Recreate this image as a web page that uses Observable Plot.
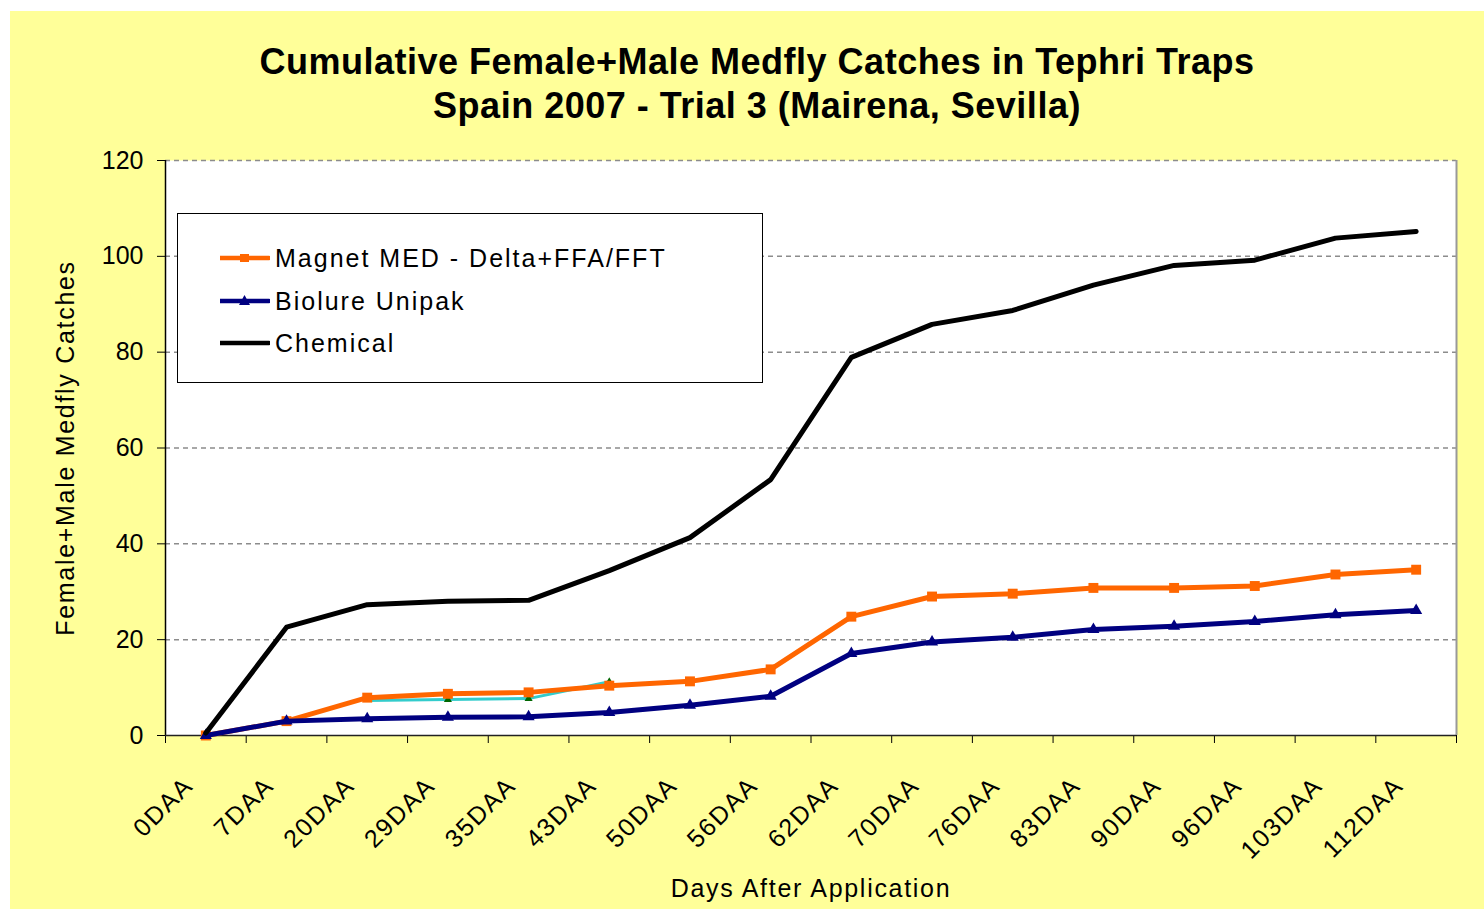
<!DOCTYPE html>
<html><head><meta charset="utf-8">
<script src="https://cdn.jsdelivr.net/npm/d3@7"></script>
<script src="https://cdn.jsdelivr.net/npm/@observablehq/plot@0.6"></script>
<style>
html,body{margin:0;padding:0;background:#fff;width:1484px;height:909px;overflow:hidden;}
#chart{position:absolute;left:10px;top:11px;width:1474px;height:898px;background:#FFFF99;}
#title{position:absolute;left:20px;width:1454px;top:29px;text-align:center;font:bold 36px "Liberation Sans",Arial,sans-serif;line-height:44px;color:#000;letter-spacing:0.5px;}
#plot{position:absolute;left:0;top:130px;}
#legend{position:absolute;left:167px;top:202px;width:586px;height:170px;box-sizing:border-box;border:1.5px solid #000;background:#fff;font:25px "Liberation Sans",Arial,sans-serif;letter-spacing:2px;color:#000;}
#legend .row{position:absolute;left:0;height:30px;width:100%;}
#legend .row svg{position:absolute;left:42px;top:8px;}
#legend .row span{position:absolute;left:97px;top:0;line-height:30px;white-space:nowrap;}
g[aria-label="text"] text{letter-spacing:1.7px;}
</style>
</head><body>
<div id="chart">
  <div id="title">Cumulative Female+Male Medfly Catches in Tephri Traps<br>Spain 2007 - Trial 3 (Mairena, Sevilla)</div>
  <div id="plot"></div>
  <div id="legend"></div>
</div>
<script>
const categories = ["0DAA","7DAA","20DAA","29DAA","35DAA","43DAA","50DAA","56DAA","62DAA","70DAA","76DAA","83DAA","90DAA","96DAA","103DAA","112DAA"];
const magnet   = [0, 3.0, 7.9, 8.7, 9.0, 10.4, 11.3, 13.8, 24.8, 29.0, 29.6, 30.8, 30.8, 31.2, 33.6, 34.6];
const biolure  = [0, 3.0, 3.5, 3.8, 3.9, 4.8, 6.3, 8.2, 17.1, 19.5, 20.5, 22.1, 22.8, 23.8, 25.2, 26.1];
const chemical = [0.5, 22.6, 27.3, 28.0, 28.2, 34.4, 41.3, 53.4, 78.9, 85.8, 88.7, 94.0, 98.1, 99.2, 103.8, 105.2];
const hidden   = [null, null, 7.3, 7.5, 7.7, 11.2, null, null, null, null, null, null, null, null, null, null];
const seriesNames = ["Magnet MED - Delta+FFA/FFT", "Biolure Unipak", "Chemical"];
const yTicks = [0, 20, 40, 60, 80, 100, 120];
const xTitle = "Days After Application";
const yTitle = "Female+Male Medfly Catches";

const colors = {magnet: "#FF6600", biolure: "#000080", chemical: "#000000", hidden: "#33CCCC", hiddenMark: "#006600"};

const rows = (vals) => vals.map((v, i) => ({x: i + 0.5, cat: categories[i], value: v})).filter(d => d.value != null);
const magnetRows = rows(magnet), biolureRows = rows(biolure), chemicalRows = rows(chemical), hiddenRows = rows(hidden);
const n = categories.length;

const chart = Plot.plot({
  width: 1474,
  height: 768,
  marginLeft: 155,
  marginRight: 28,
  marginTop: 19,
  marginBottom: 174,
  x: {domain: [0, n]},
  y: {domain: [0, 120]},
  style: {background: "transparent", fontFamily: "'Liberation Sans', Arial, sans-serif", color: "#000", overflow: "visible"},
  marks: [
    Plot.frame({fill: "white", stroke: "none"}),
    Plot.ruleY(yTicks.filter(d => d > 0), {stroke: "#8c8c8c", strokeWidth: 1.5, strokeDasharray: "5,4"}),
    Plot.ruleX([n], {stroke: "#999", strokeWidth: 2}),
    Plot.axisY({ticks: yTicks, tickSize: 8, tickPadding: 14, fontSize: 25, label: null, stroke: "#000"}),
    Plot.axisX({ticks: d3.range(0, n + 1), tickSize: 8, tickFormat: () => "", label: null, stroke: "#000"}),
    Plot.ruleX([0], {stroke: "#000", strokeWidth: 1.5}),
    Plot.ruleY([0], {stroke: "#222", strokeWidth: 1.5}),
    Plot.text(categories, {x: (d, i) => i + 0.5, y: () => 0, text: d => d, rotate: -45, textAnchor: "end", dx: -17, dy: 46, fontSize: 25, fill: "#000"}),
    Plot.text([xTitle], {frameAnchor: "bottom", textAnchor: "middle", dy: 161, fontSize: 25, fill: "#000"}),
    Plot.text([yTitle], {frameAnchor: "left", textAnchor: "middle", rotate: -90, dx: -100, fontSize: 25, fill: "#000"}),
    // unlabelled series visible in the original
    Plot.line(hiddenRows, {x: "x", y: "value", stroke: colors.hidden, strokeWidth: 3}),
    Plot.dot(hiddenRows.slice(1), {x: "x", y: "value", symbol: "triangle", r: 3, fill: colors.hiddenMark}),
    Plot.line(magnetRows, {x: "x", y: "value", stroke: colors.magnet, strokeWidth: 5}),
    Plot.dot(magnetRows, {x: "x", y: "value", symbol: "square", r: 5.6, fill: colors.magnet}),
    Plot.line(biolureRows, {x: "x", y: "value", stroke: colors.biolure, strokeWidth: 5}),
    Plot.dot(biolureRows, {x: "x", y: "value", symbol: "triangle", r: 4.5, fill: colors.biolure}),
    Plot.line(chemicalRows, {x: "x", y: "value", stroke: colors.chemical, strokeWidth: 5})
  ]
});
document.getElementById("plot").appendChild(chart);

// Legend (HTML overlay inside the plot area)
const legend = document.getElementById("legend");
const legendItems = [
  {name: seriesNames[0], color: colors.magnet, marker: "square"},
  {name: seriesNames[1], color: colors.biolure, marker: "triangle"},
  {name: seriesNames[2], color: colors.chemical, marker: null}
];
const rowTops = [29, 72, 114];
legendItems.forEach((it, i) => {
  const row = document.createElement("div");
  row.className = "row";
  row.style.top = rowTops[i] + "px";
  let marker = "";
  if (it.marker === "square") marker = `<rect x="20" y="3" width="9" height="8" fill="${it.color}"/>`;
  if (it.marker === "triangle") marker = `<path d="M24.5,1 L30,11 L19,11 Z" fill="${it.color}"/>`;
  row.innerHTML = `<svg width="50" height="14"><line x1="0" x2="49" y1="7" y2="7" stroke="${it.color}" stroke-width="4.5" stroke-linecap="round"/>${marker}</svg><span>${it.name}</span>`;
  legend.appendChild(row);
});
</script>
</body></html>
